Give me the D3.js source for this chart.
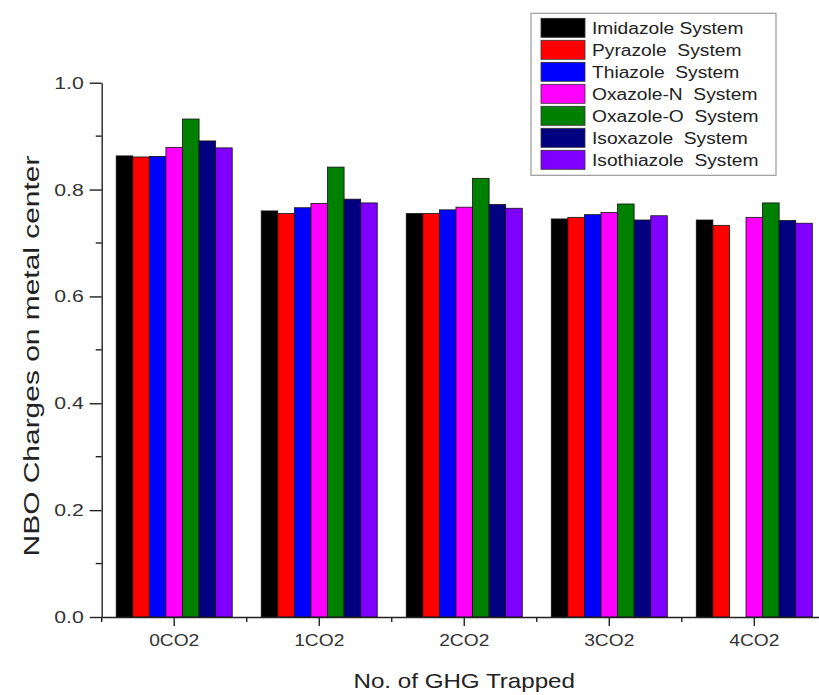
<!DOCTYPE html>
<html>
<head>
<meta charset="utf-8">
<script src="https://cdn.jsdelivr.net/npm/d3@7"></script>
<style>
  body { margin: 0; background: #fff; }
  svg { display: block; font-family: "Liberation Sans", Arial, sans-serif; }
</style>
</head>
<body>
<svg id="chart" width="819" height="695"></svg>
<script>
var categories = ["0CO2", "1CO2", "2CO2", "3CO2", "4CO2"];

var systems = ["Imidazole System", "Pyrazole  System", "Thiazole  System",
    "Oxazole-N  System", "Oxazole-O  System", "Isoxazole  System", "Isothiazole  System"];

var colors = ["#000000", "#ff0000", "#0000ff", "#ff00ff", "#008000", "#000080", "#8000ff"];

// values per system, one per category (null = no bar)
var imidazole   = [0.863, 0.760, 0.755, 0.745, 0.743];
var pyrazole    = [0.861, 0.755, 0.755, 0.748, 0.733];
var thiazole    = [0.862, 0.766, 0.762, 0.753, null];
var oxazoleN    = [0.879, 0.774, 0.767, 0.757, 0.748];
var oxazoleO    = [0.932, 0.842, 0.821, 0.773, 0.775];
var isoxazole   = [0.891, 0.782, 0.772, 0.743, 0.742];
var isothiazole = [0.878, 0.775, 0.765, 0.751, 0.737];

var yTicks = [0, 0.2, 0.4, 0.6, 0.8, 1.0];
var yMinor = [0.1, 0.3, 0.5, 0.7, 0.9];

var series = [imidazole, pyrazole, thiazole, oxazoleN, oxazoleO, isoxazole, isothiazole];

var svg = d3.select("#chart");

var plotLeft = 101.7, plotRight = 826.8, plotBottom = 617, plotTop = 82.7;

var x = d3.scaleBand().domain(categories).range([plotLeft, plotRight]).paddingInner(0).paddingOuter(0);
var xSub = d3.scaleBand().domain(d3.range(systems.length))
    .range([x.bandwidth() * 0.1, x.bandwidth() * 0.9]);
var y = d3.scaleLinear().domain([0, 1]).range([plotBottom, plotTop]);

var f = d3.format(".1f");

// stretch text horizontally like the original export
function stretch(sel, k) {
    sel.each(function() {
        var w = this.getComputedTextLength();
        d3.select(this).attr("textLength", w * k).attr("lengthAdjust", "spacingAndGlyphs");
    });
}

// bars
var groups = svg.append("g").selectAll("g")
    .data(categories)
    .enter().append("g")
    .attr("transform", function(d) { return "translate(" + x(d) + ",0)"; });

groups.selectAll("rect")
    .data(function(d, ci) {
        return series.map(function(s, si) { return { si: si, v: s[ci] }; })
            .filter(function(e) { return e.v != null; });
    })
    .enter().append("rect")
    .attr("x", function(d) { return xSub(d.si); })
    .attr("width", xSub.bandwidth())
    .attr("y", function(d) { return y(d.v); })
    .attr("height", function(d) { return y(0) - y(d.v); })
    .style("fill", function(d) { return colors[d.si]; })
    .style("stroke", "#111")
    .style("stroke-width", "0.8px");

// y axis
var yAxis = svg.append("g")
    .attr("transform", "translate(" + plotLeft + ",0)")
    .call(d3.axisLeft(y).tickValues(yTicks).tickFormat(f).tickSize(12).tickSizeOuter(0).tickPadding(6));

svg.append("g")
    .attr("transform", "translate(" + plotLeft + ",0)")
    .selectAll("line").data(yMinor).enter().append("line")
    .attr("x1", -6).attr("x2", 0)
    .attr("y1", function(d) { return y(d); })
    .attr("y2", function(d) { return y(d); })
    .style("stroke", "#222").style("stroke-width", "1.4px");

yAxis.selectAll("text")
    .attr("font-size", "17px")
    .attr("fill", "#333")
    .call(stretch, 1.25);

// x axis
var xAxis = svg.append("g")
    .attr("transform", "translate(0," + plotBottom + ")")
    .call(d3.axisBottom(x).tickSize(9).tickSizeOuter(0).tickPadding(9));

svg.append("g")
    .attr("transform", "translate(0," + plotBottom + ")")
    .selectAll("line").data(categories).enter().append("line")
    .attr("x1", function(d) { return x(d); })
    .attr("x2", function(d) { return x(d); })
    .attr("y1", 0).attr("y2", 5)
    .style("stroke", "#222").style("stroke-width", "1.4px");

xAxis.selectAll("text")
    .attr("font-size", "16px")
    .attr("fill", "#333")
    .call(stretch, 1.2);

svg.selectAll(".domain, .tick line")
    .style("stroke", "#222")
    .style("stroke-width", "1.4px");
svg.selectAll(".tick text").style("font-family", "Liberation Sans, Arial, sans-serif");

// axis titles
svg.append("text")
    .attr("x", (plotLeft + plotRight) / 2)
    .attr("y", 688)
    .attr("text-anchor", "middle")
    .attr("font-size", "21px")
    .attr("fill", "#222")
    .text("No. of GHG Trapped")
    .call(stretch, 1.15);

svg.append("text")
    .attr("transform", "translate(39," + 356 + ") rotate(-90)")
    .attr("text-anchor", "middle")
    .attr("font-size", "22px")
    .attr("fill", "#222")
    .text("NBO Charges on metal center")
    .call(stretch, 1.36);

// legend
var legend = svg.append("g");

legend.append("rect")
    .attr("x", 531).attr("y", 13.3)
    .attr("width", 245).attr("height", 162)
    .style("fill", "#fff")
    .style("stroke", "#999")
    .style("stroke-width", "1.2px");

var items = legend.selectAll("g.item")
    .data(systems)
    .enter().append("g")
    .attr("class", "item")
    .attr("transform", function(d, i) { return "translate(541," + (18.3 + i * 22) + ")"; });

items.append("rect")
    .attr("width", 44).attr("height", 19)
    .style("fill", function(d, i) { return colors[i]; })
    .style("stroke", "#333")
    .style("stroke-width", "0.8px");

items.append("text")
    .attr("x", 51)
    .attr("y", 16)
    .attr("font-size", "16px")
    .attr("fill", "#222")
    .style("white-space", "pre")
    .text(function(d) { return d; })
    .call(stretch, 1.2);
</script>
</body>
</html>
